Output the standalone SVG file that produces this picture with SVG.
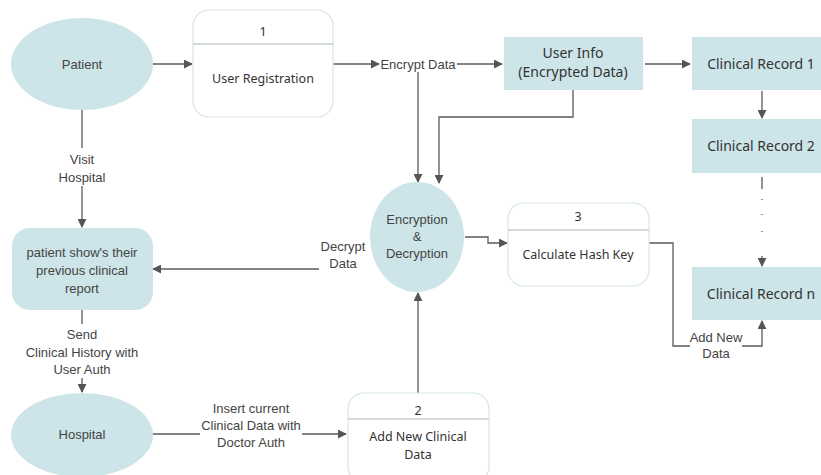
<svg xmlns="http://www.w3.org/2000/svg" width="821" height="475" viewBox="0 0 821 475">
<defs>
<marker id="ah" viewBox="0 0 10 10" refX="9" refY="5" markerWidth="9" markerHeight="9" markerUnits="userSpaceOnUse" orient="auto"><path d="M0,0 L10,5 L0,10 z" fill="#555"/></marker>
</defs>
<style>
.ell{fill:#cde5e8;stroke:none}
.store{fill:#cde5e8;stroke:none}
.proc{fill:#fff;stroke:#d5e6e6;stroke-width:1.2}
.div{stroke:#c8cccc;stroke-width:1.5}
.t{font-family:"Liberation Sans",Arial,sans-serif;font-size:13px;fill:#444;text-anchor:middle}
.b{font-family:"Noto Sans","Open Sans",sans-serif;font-size:12.5px;fill:#333;text-anchor:middle}
.c{font-family:"Noto Sans","Open Sans",sans-serif;font-size:14px;fill:#333;text-anchor:middle}
.ln{fill:none;stroke:#5a5a5a;stroke-width:1.3}
.arr{marker-end:url(#ah)}
</style>
<rect width="821" height="475" fill="#fff"/>
<g id="connectors">
<path class="ln arr" d="M153,64 H192"/>
<path class="ln arr" d="M333,64 H379"/>
<path class="ln arr" d="M457,64 H502"/>
<path class="ln arr" d="M645,64 H690"/>
<path class="ln arr" d="M762,91 V118"/>
<path class="ln" d="M762,177 V189"/>
<path class="ln" d="M762,199 V201 M762,214 V216 M762,231 V233" stroke-dasharray="1 1"/>
<path class="ln arr" d="M762,256 V266"/>
<path class="ln arr" d="M418,72 V182"/>
<path class="ln arr" d="M573,90 V117 H439 V183"/>
<path class="ln arr" d="M465,237 H488 V243 H507"/>
<path class="ln" d="M649,243 H673 V346 H690"/>
<path class="ln arr" d="M742,346 H762 V321"/>
<path class="ln arr" d="M319,269 H153"/>
<path class="ln arr" d="M82,110 V148 M82,186 V227"/>
<path class="ln arr" d="M82,310 V324 M82,378 V392"/>
<path class="ln" d="M153,434 H200"/>
<path class="ln arr" d="M302,434 H346"/>
<path class="ln arr" d="M418,393 V293"/>
<text class="t" x="418" y="68.5" style="font-size:13px">Encrypt Data</text>
<text class="t" x="82" y="164">Visit</text>
<text class="t" x="82" y="182">Hospital</text>
<text class="t" x="343" y="251">Decrypt</text>
<text class="t" x="343" y="268">Data</text>
<text class="t" x="82" y="339">Send</text>
<text class="t" x="82" y="357">Clinical History with</text>
<text class="t" x="82" y="374">User Auth</text>
<text class="t" x="251" y="413">Insert current</text>
<text class="t" x="251" y="430">Clinical Data with</text>
<text class="t" x="251" y="447">Doctor Auth</text>
<text class="t" x="716" y="342">Add New</text>
<text class="t" x="716" y="358">Data</text>
</g>
<g id="patient">
<ellipse class="ell" cx="82" cy="64" rx="71" ry="46"/>
<text class="t" x="82" y="69">Patient</text>
</g>
<g id="user-registration">
<rect class="proc" x="193" y="10" width="140" height="107" rx="16"/>
<line class="div" x1="193" y1="44" x2="333" y2="44"/>
<text class="b" x="263" y="36">1</text>
<text class="b" x="263" y="83">User Registration</text>
</g>
<g id="user-info">
<rect class="store" x="504" y="37" width="139" height="53"/>
<text class="c" x="573" y="58">User Info</text>
<text class="c" x="573" y="77">(Encrypted Data)</text>
</g>
<g id="clinical-record-1">
<rect class="store" x="692" y="37" width="129" height="53"/>
<text class="c" x="761" y="69">Clinical Record 1</text>
</g>
<g id="clinical-record-2">
<rect class="store" x="692" y="119" width="129" height="54"/>
<text class="c" x="761" y="151">Clinical Record 2</text>
</g>
<g id="clinical-record-n">
<rect class="store" x="692" y="267" width="129" height="53"/>
<text class="c" x="761" y="299">Clinical Record n</text>
</g>
<g id="encryption-decryption">
<ellipse class="ell" cx="417" cy="237" rx="47" ry="55"/>
<text class="t" x="417" y="224">Encryption</text>
<text class="t" x="417" y="241">&amp;</text>
<text class="t" x="417" y="258">Decryption</text>
</g>
<g id="calculate-hash-key">
<rect class="proc" x="508" y="203" width="141" height="83" rx="16"/>
<line class="div" x1="508" y1="230" x2="649" y2="230"/>
<text class="b" x="578" y="221">3</text>
<text class="b" x="578" y="259">Calculate Hash Key</text>
</g>
<g id="patient-report">
<rect class="ell" x="12" y="228" width="141" height="82" rx="18"/>
<text class="t" x="82" y="257">patient show's their</text>
<text class="t" x="82" y="275">previous clinical</text>
<text class="t" x="82" y="293">report</text>
</g>
<g id="hospital">
<ellipse class="ell" cx="82" cy="435" rx="71" ry="42"/>
<text class="t" x="82" y="439">Hospital</text>
</g>
<g id="add-new-clinical-data">
<rect class="proc" x="348" y="393" width="141" height="90" rx="16"/>
<line class="div" x1="348" y1="419" x2="489" y2="419"/>
<text class="b" x="418" y="415">2</text>
<text class="b" x="418" y="441">Add New Clinical</text>
<text class="b" x="418" y="459">Data</text>
</g>
</svg>
